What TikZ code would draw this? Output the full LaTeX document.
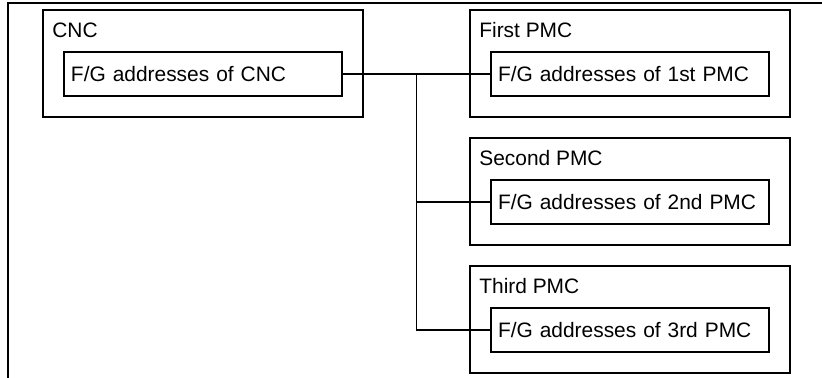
\documentclass[tikz,border=0pt]{standalone}
\usepackage{fontspec}
\setmainfont{Liberation Sans}
\usetikzlibrary{positioning, calc}

\begin{document}
\begin{tikzpicture}[
		font=\fontsize{11.9}{14}\selectfont,
		unit/.style={draw, rectangle, minimum width=6.4cm, minimum height=2.14cm,
			outer sep=0pt, line width=1pt},
		fgbox/.style={draw, rectangle, minimum height=0.88cm, text width=5.28cm,
			inner xsep=0.14cm, align=left, outer sep=0pt, line width=1pt},
		unittitle/.style={anchor=base west, inner sep=0pt},
		link/.style={line width=1pt},
		]
		\useasboundingbox (0,0) rectangle (16.44,-7.56);
		
		% outer frame (only top and left edge visible)
		\draw[link] (16.44,-0.06) -- (0.16,-0.06) -- (0.16,-7.56);
		
		\node[unit] (cnc) at (4.06,-1.27) {};
		\node[unit] (pmc1) at (12.6,-1.27) {};
		\node[unit, below=0.42cm of pmc1] (pmc2) {};
		\node[unit, below=0.42cm of pmc2] (pmc3) {};
		
		\node[unittitle] (cnctitle)  at ($(cnc.north west)+(0.18,-0.54)$)  {CNC};
		\node[unittitle] (pmc1title) at ($(pmc1.north west)+(0.18,-0.54)$) {First PMC};
		\node[unittitle] (pmc2title) at ($(pmc2.north west)+(0.18,-0.54)$) {Second PMC};
		\node[unittitle] (pmc3title) at ($(pmc3.north west)+(0.18,-0.54)$) {Third PMC};
		
		\node[fgbox] (cncfg) at ($(cnc.center)+(0,-0.21)$)  {F/G addresses of CNC};
		\node[fgbox] (fg1)   at ($(pmc1.center)+(0,-0.21)$) {F/G addresses of 1st PMC};
		\node[fgbox] (fg2)   at ($(pmc2.center)+(0,-0.21)$) {F/G addresses of 2nd PMC};
		\node[fgbox] (fg3)   at ($(pmc3.center)+(0,-0.21)$) {F/G addresses of 3rd PMC};
		
		% Verbindungen
		\draw[link] (cncfg.east) -- (fg1.west);
		\coordinate (bus) at ($(cncfg.east)!0.5!(fg1.west)$);
		\draw[link] (bus) |- (fg2.west);
		\draw[link] (bus) |- (fg3.west);
		
	\end{tikzpicture}
\end{document}
